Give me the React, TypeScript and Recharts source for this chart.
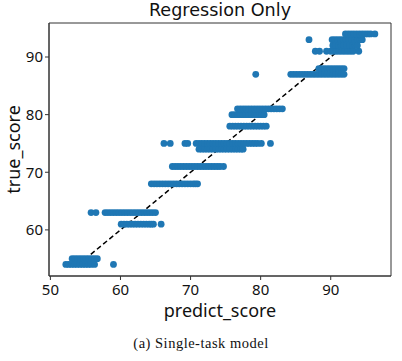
import React from "react";
import {
  ScatterChart,
  Scatter,
  XAxis,
  YAxis,
  ReferenceLine,
  ReferenceArea,
} from "recharts";

// each true score level and the predicted scores that landed on it
const trueLevels = [54, 55, 61, 63, 68, 71, 74, 75, 78, 80, 81, 87, 88, 91, 92, 93, 94];

const pred54 = [52.2, 52.6, 53.0, 53.4, 53.8, 54.2, 54.6, 55.0, 55.4, 55.8, 56.3, 59.0];
const pred55 = [53.1, 53.5, 53.9, 54.3, 54.7, 55.1, 55.5, 55.9, 56.3, 56.7];
const pred61 = [60.1, 60.5, 60.9, 61.3, 61.7, 62.1, 62.5, 62.9, 63.3, 63.7, 64.1, 64.4, 64.7, 65.8];
const pred63 = [
  55.8, 56.5, 57.8, 58.2, 58.6, 59.0, 59.4, 59.8, 60.2, 60.6, 61.0, 61.4, 61.8, 62.2,
  62.6, 63.0, 63.4, 63.8, 64.2, 64.6, 65.0,
];
const pred68 = [
  64.4, 64.8, 65.2, 65.6, 66.0, 66.4, 66.8, 67.2, 67.6, 68.0, 68.4, 68.8, 69.2, 69.6,
  70.0, 70.4, 70.7, 71.0,
];
const pred71 = [
  67.4, 67.8, 68.2, 68.6, 69.0, 69.4, 69.8, 70.2, 70.6, 71.0, 71.4, 71.8, 72.2, 72.6,
  73.0, 73.4, 73.8, 74.2, 74.7,
];
const pred74 = [
  71.2, 71.6, 72.0, 72.4, 72.8, 73.2, 73.6, 74.0, 74.4, 74.8, 75.2, 75.6, 76.0, 76.4,
  76.8, 77.2, 77.5,
];
const pred75 = [
  66.2, 67.1, 69.2, 69.6, 70.8, 71.2, 71.6, 72.0, 72.4, 72.8, 73.2, 73.6, 74.0, 74.4,
  74.8, 75.2, 75.6, 76.0, 76.4, 76.8, 77.2, 77.6, 78.0, 78.4, 78.8, 79.2, 79.6, 80.1,
  81.4,
];
const pred78 = [
  75.6, 76.0, 76.4, 76.8, 77.2, 77.6, 78.0, 78.4, 78.8, 79.2, 79.6, 80.0, 80.4, 80.8,
];
const pred80 = [75.9, 76.3, 76.7, 77.1, 77.5, 77.9, 78.3, 78.7, 79.1, 79.5, 79.9, 80.2, 80.5];
const pred81 = [
  76.7, 77.1, 77.5, 77.9, 78.3, 78.7, 79.1, 79.5, 79.9, 80.3, 80.7, 81.1, 81.5, 81.9,
  82.3, 82.7, 83.1,
];
const pred87 = [
  79.3, 84.3, 84.7, 85.1, 85.5, 85.9, 86.3, 86.7, 87.1, 87.5, 87.9, 88.3, 88.7, 89.1,
  89.5, 89.9, 90.3, 90.7, 91.1, 91.5, 91.9,
];
const pred88 = [88.3, 88.7, 89.1, 89.5, 89.9, 90.3, 90.7, 91.1, 91.5, 91.9];
const pred91 = [87.8, 88.4, 89.4, 90.0, 90.4, 90.8, 91.2, 91.6, 92.0, 92.4, 92.8, 93.2, 94.0];
const pred92 = [90.3, 90.7, 91.1, 91.5, 91.9, 92.3, 92.7, 93.1, 93.5, 93.8];
const pred93 = [86.9, 90.2, 90.6, 91.0, 91.4, 91.8, 92.2, 92.6, 93.0, 93.4, 93.8, 94.2, 94.5];
const pred94 = [92.1, 92.5, 92.9, 93.3, 93.7, 94.1, 94.5, 94.9, 95.3, 95.7, 96.3];

const predictions = [
  pred54, pred55, pred61, pred63, pred68, pred71, pred74, pred75, pred78,
  pred80, pred81, pred87, pred88, pred91, pred92, pred93, pred94,
];

const xTicks = [50, 60, 70, 80, 90];
const yTicks = [60, 70, 80, 90];
const xDomain = [49.8, 98.6];
const yDomain = [52, 95.9];
const fitLine = [
  { x: 54, y: 54 },
  { x: 94, y: 94 },
];

const points = trueLevels.flatMap((t, i) =>
  predictions[i].map((p) => ({ predict: p, truth: t }))
);

const FONT = "'Noto Sans', 'Open Sans', sans-serif";

const Dot = (props: any) => (
  <circle cx={props.cx} cy={props.cy} r={3.4} fill="#1f77b4" />
);

export default function App() {
  return (
    <div
      style={{
        position: "fixed",
        left: 0,
        top: 0,
        width: 402,
        height: 361,
        background: "#fff",
      }}
    >
      <div
        style={{
          position: "absolute",
          left: 49,
          width: 342,
          top: 2,
          lineHeight: 1,
          textAlign: "center",
          fontFamily: "'DejaVu Sans', sans-serif",
          fontSize: 17.6,
          color: "#111",
        }}
      >
        Regression Only
      </div>
      <ScatterChart
        width={402}
        height={361}
        margin={{ top: 23, right: 11, bottom: 0, left: 0 }}
      >
        <XAxis
          type="number"
          dataKey="predict"
          domain={xDomain}
          ticks={xTicks}
          allowDataOverflow
          height={85}
          tickSize={4}
          tickMargin={4}
          stroke="#333"
          tick={{ fill: "#111", fontSize: 15, fontFamily: FONT }}
          label={{
            value: "predict_score",
            position: "center",
            dy: -8,
            fill: "#111",
            fontSize: 18,
            fontFamily: FONT,
          }}
        />
        <YAxis
          type="number"
          dataKey="truth"
          domain={yDomain}
          ticks={yTicks}
          allowDataOverflow
          width={49}
          tickSize={4}
          tickMargin={2}
          stroke="#333"
          tick={{ fill: "#111", fontSize: 15, fontFamily: FONT }}
          label={{
            value: "true_score",
            position: "center",
            angle: -90,
            dx: -11,
            fill: "#111",
            fontSize: 18,
            fontFamily: FONT,
          }}
        />
        <ReferenceArea
          x1={xDomain[0]}
          x2={xDomain[1]}
          y1={yDomain[0]}
          y2={yDomain[1]}
          fill="none"
          stroke="#333"
          strokeWidth={1}
        />
        <Scatter data={points} shape={Dot} isAnimationActive={false} />
        <ReferenceLine
          segment={fitLine}
          stroke="#000"
          strokeWidth={1.5}
          strokeDasharray="5 3"
        />
      </ScatterChart>
      <div
        style={{
          position: "absolute",
          left: 0,
          width: 402,
          top: 335,
          textAlign: "center",
          fontFamily: "'Liberation Serif', 'DejaVu Serif', serif",
          fontSize: 14.5,
          letterSpacing: 0.5,
          color: "#111",
        }}
      >
        (a) Single-task model
      </div>
    </div>
  );
}
